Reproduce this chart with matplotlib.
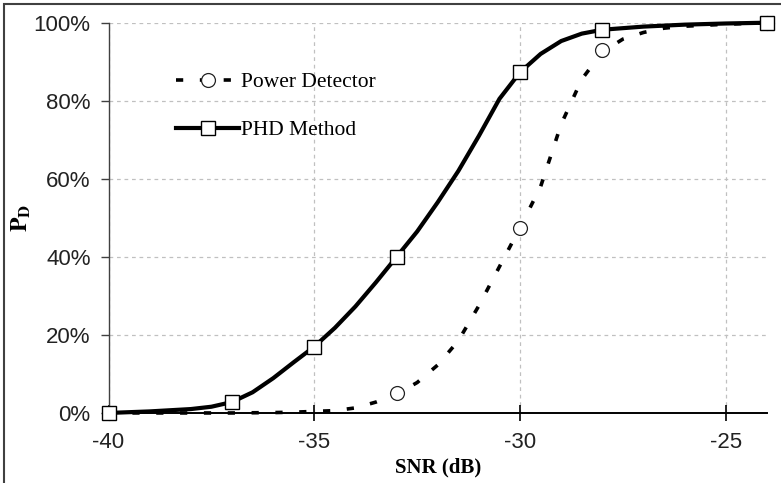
import matplotlib.pyplot as plt
from matplotlib.lines import Line2D
from matplotlib.patches import Rectangle
from matplotlib.ticker import PercentFormatter

# smoothed curves (SNR in dB, Pd in %)
snr_phd = [-40, -39.5, -39, -38.5, -38, -37.5, -37, -36.5, -36, -35.5, -35,
           -34.5, -34, -33.5, -33, -32.5, -32, -31.5, -31, -30.5, -30,
           -29.5, -29, -28.5, -28, -27, -26, -25, -24]
pd_phd = [0, 0.2, 0.4, 0.7, 1.0, 1.6, 2.8, 5.3, 8.9, 13.0, 17.0,
          21.8, 27.3, 33.5, 40.0, 46.5, 54.0, 62.0, 71.0, 80.5, 87.3,
          92.0, 95.3, 97.2, 98.2, 99.0, 99.5, 99.8, 100]

snr_pow = [-40, -39, -38, -37, -36, -35.5, -35, -34.5, -34, -33.5, -33,
           -32.5, -32, -31.5, -31, -30.5, -30, -29.5, -29, -28.5, -28,
           -27.5, -27, -26.5, -26, -25, -24]
pd_pow = [0, 0, 0, 0, 0.1, 0.2, 0.4, 0.6, 1.3, 2.8, 4.8,
          7.8, 12.3, 18.5, 27.5, 37.5, 47.5, 58.0, 74.0, 85.5, 92.5,
          95.8, 97.5, 98.6, 99.1, 99.6, 100]

# simulated points shown as markers
snr_phd_pts = [-40, -37, -35, -33, -30, -28, -24]
pd_phd_pts = [0, 2.9, 17.0, 40.0, 87.3, 98.2, 100]
snr_pow_pts = [-40, -33, -30, -28, -24]
pd_pow_pts = [0, 5.0, 47.5, 93.0, 100]

x_ticks = [-40, -35, -30, -25]
y_ticks = [0, 20, 40, 60, 80, 100]

plt.rcParams['font.family'] = 'Liberation Sans'
plt.rcParams['mathtext.fontset'] = 'stix'
plt.rcParams['axes.unicode_minus'] = False

fig = plt.figure(figsize=(7.81, 4.83), dpi=100)
ax = fig.add_axes([0.139, 0.145, 0.843, 0.808])

fig.patches.append(Rectangle((4 / 781, -0.1), 1.2, 1.1 - 4 / 483,
                             transform=fig.transFigure, fill=False,
                             edgecolor='#404040', linewidth=1.5))

ax.plot(snr_pow, pd_pow, color='black', linewidth=2.6,
        linestyle=(0, (2.0, 4.6)), zorder=3, clip_on=False)
ax.plot(snr_pow_pts, pd_pow_pts, linestyle='none', marker='o', markersize=10,
        markerfacecolor='white', markeredgecolor='#222222',
        markeredgewidth=0.9, zorder=4, clip_on=False)
ax.plot(snr_phd, pd_phd, color='black', linewidth=3, zorder=5, clip_on=False)
ax.plot(snr_phd_pts, pd_phd_pts, linestyle='none', marker='s', markersize=10,
        markerfacecolor='white', markeredgecolor='black',
        markeredgewidth=1, zorder=6, clip_on=False)

ax.set_xlim(-40, -24)
ax.set_ylim(0, 100)
ax.set_xticks(x_ticks)
ax.set_yticks(y_ticks)
ax.yaxis.set_major_formatter(PercentFormatter(decimals=0))
ax.grid(True, color='#c0c0c0', linestyle=(0, (3, 3)), linewidth=0.9)
ax.set_axisbelow(True)

ax.spines['top'].set_visible(False)
ax.spines['right'].set_visible(False)
ax.spines['left'].set_color('#404040')
ax.spines['left'].set_linewidth(1)
ax.spines['bottom'].set_color('black')
ax.spines['bottom'].set_linewidth(1.4)

ax.tick_params(axis='y', direction='out', length=6, width=1,
               color='#404040', labelsize=16, labelcolor='#222222', pad=7)
ax.tick_params(axis='x', direction='inout', length=11, width=1.2,
               labelsize=16, labelcolor='#222222', pad=8)

ax.set_xlabel('SNR (dB)', family='Liberation Serif', fontweight='bold',
              fontsize=15)
ax.xaxis.set_label_coords(0.5, -0.113)
ax.set_ylabel(r'$\mathbf{P}_\mathbf{D}$', fontsize=17)
ax.yaxis.set_label_coords(-0.115, 0.5)

handles = [
    Line2D([], [], color='black', linewidth=2.6, linestyle=(0, (2.0, 4.6)),
           marker='o', markersize=10, markerfacecolor='white',
           markeredgecolor='#222222', markeredgewidth=0.9),
    Line2D([], [], color='black', linewidth=3, marker='s', markersize=10,
           markerfacecolor='white', markeredgecolor='black',
           markeredgewidth=1),
]
ax.legend(handles, ['Power Detector', 'PHD Method'], frameon=False,
          loc='upper left', bbox_to_anchor=(0.09, 0.895),
          prop={'family': 'Liberation Serif', 'size': 15.5},
          handlelength=2.9, handletextpad=0.1, labelspacing=1.3,
          borderaxespad=0)

fig.savefig('out.png', dpi=100)
